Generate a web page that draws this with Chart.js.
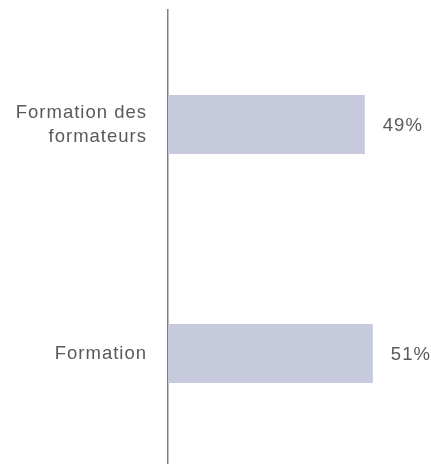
<!DOCTYPE html>
<html>
<head>
<meta charset="utf-8">
<script src="https://cdn.jsdelivr.net/npm/chart.js@4/dist/chart.umd.min.js"></script>
<style>
  html, body { margin: 0; padding: 0; overflow: hidden; background: #fff; }
  #wrap { position: relative; width: 431px; height: 468px; }
</style>
</head>
<body>
<div id="wrap"><canvas id="bars"></canvas></div>
<script>
const categories = [['Formation des', 'formateurs'], 'Formation'];
const shares = [49, 51];

const barColor = '#c7c9dc';
const textColor = '#595959';
const spacing = '1px';

// canvas has no letter-spacing from css, set it before measuring and drawing
const letterSpace = {
    id: 'letterSpace',
    beforeLayout(chart) { chart.ctx.letterSpacing = spacing; },
    beforeDraw(chart) { chart.ctx.letterSpacing = spacing; }
};

// value labels to the right of each bar
const valueLabels = {
    id: 'valueLabels',
    afterDatasetsDraw(chart) {
        const ctx = chart.ctx;
        const meta = chart.getDatasetMeta(0);
        ctx.save();
        ctx.letterSpacing = spacing;
        ctx.font = '18.5px "Liberation Sans", Arial, sans-serif';
        ctx.fillStyle = textColor;
        ctx.textAlign = 'left';
        ctx.textBaseline = 'middle';
        meta.data.forEach((bar, i) => {
            ctx.fillText(shares[i] + '%', bar.x + 18, bar.y + 1.5);
        });
        ctx.restore();
    }
};

new Chart(document.getElementById('bars'), {
    type: 'bar',
    data: {
        labels: categories,
        datasets: [{
            data: shares,
            backgroundColor: barColor,
            borderWidth: 0,
            categoryPercentage: 1,
            barPercentage: 0.258
        }]
    },
    options: {
        responsive: true,
        maintainAspectRatio: false,
        animation: false,
        indexAxis: 'y',
        layout: { padding: { top: 10, right: 22, bottom: 0, left: 0 } },
        plugins: {
            legend: { display: false },
            tooltip: { enabled: false }
        },
        scales: {
            x: {
                display: false,
                min: 0,
                max: 60
            },
            y: {
                afterFit(scale) {
                    scale.width = 168;
                    scale.paddingTop = 0;
                    scale.paddingBottom = 0;
                },
                grid: { display: false, drawTicks: false },
                border: { display: true, color: '#7f7f7f', width: 1.5 },
                ticks: {
                    padding: 21,
                    color: textColor,
                    font: { family: '"Liberation Sans", Arial, sans-serif', size: 18.5, lineHeight: 1.3 }
                }
            }
        }
    },
    plugins: [letterSpace, valueLabels]
});
</script>
</body>
</html>
